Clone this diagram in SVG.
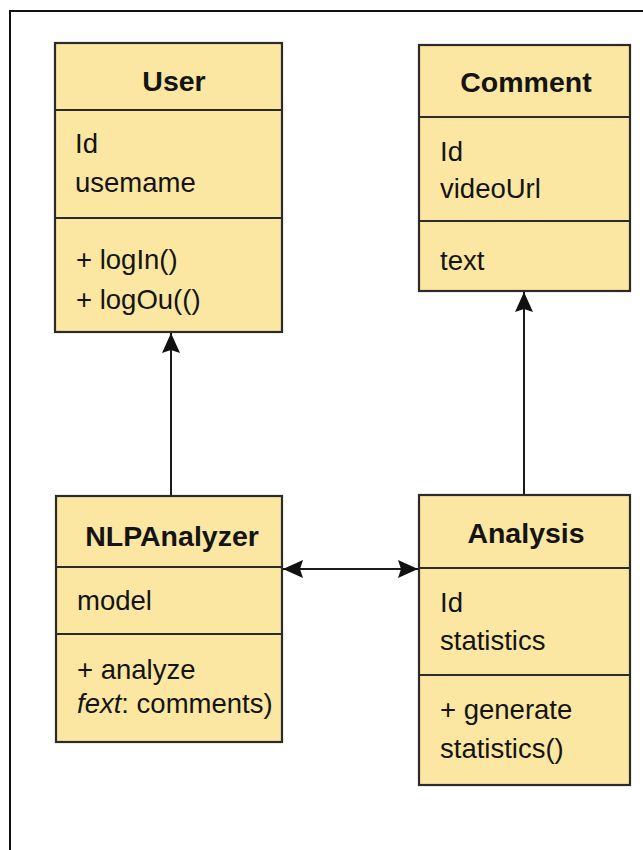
<svg xmlns="http://www.w3.org/2000/svg" width="643" height="850" viewBox="0 0 643 850">
<style>
.box{fill:#FBE7A1;stroke:#2b2b2b;stroke-width:2.2}
.sep{stroke:#2b2b2b;stroke-width:2}
.hd{font-family:"Liberation Sans",Arial,sans-serif;font-weight:bold;font-size:28.5px;fill:#141414;text-anchor:middle}
.tx{font-family:"Liberation Sans",Arial,sans-serif;font-size:27.5px;fill:#141414}
.ln{stroke:#1a1a1a;stroke-width:2;fill:none}
</style>
<defs>
<marker id="ah" viewBox="0 0 20 18" refX="20" refY="9" markerWidth="20" markerHeight="18" markerUnits="userSpaceOnUse" orient="auto-start-reverse">
<path d="M0,0 L20,9 L0,18 L3,9 Z" fill="#111"/>
</marker>
</defs>
<rect width="643" height="850" fill="#fff"/>
<path d="M10,850 L10,11 L643,11" fill="none" stroke="#111" stroke-width="2"/>
<g id="connectors">
<line class="ln" x1="171" y1="496" x2="171" y2="333" marker-end="url(#ah)"/>
<line class="ln" x1="524" y1="495" x2="524" y2="292" marker-end="url(#ah)"/>
<line class="ln" x1="283" y1="569" x2="418" y2="569" marker-start="url(#ah)" marker-end="url(#ah)"/>
</g>
<g id="user">
<rect class="box" x="55" y="43" width="227" height="289"/>
<line class="sep" x1="55" y1="110" x2="282" y2="110"/>
<line class="sep" x1="55" y1="218" x2="282" y2="218"/>
<text class="hd" x="174" y="91">User</text>
<text class="tx" x="75" y="153">Id</text>
<text class="tx" x="75" y="192">usemame</text>
<text class="tx" x="76" y="269">+ logIn()</text>
<text class="tx" x="76" y="309">+ logOu(()</text>
</g>
<g id="comment">
<rect class="box" x="419" y="45" width="211" height="246"/>
<line class="sep" x1="419" y1="117" x2="630" y2="117"/>
<line class="sep" x1="419" y1="221" x2="630" y2="221"/>
<text class="hd" x="526" y="92">Comment</text>
<text class="tx" x="440" y="161">Id</text>
<text class="tx" x="440" y="198">videoUrl</text>
<text class="tx" x="440" y="270">text</text>
</g>
<g id="nlpanalyzer">
<rect class="box" x="56" y="496" width="226" height="246"/>
<line class="sep" x1="56" y1="567" x2="282" y2="567"/>
<line class="sep" x1="56" y1="634" x2="282" y2="634"/>
<text class="hd" x="172" y="546">NLPAnalyzer</text>
<text class="tx" x="77" y="610">model</text>
<text class="tx" x="77" y="679">+ analyze</text>
<text class="tx" x="77" y="713"><tspan font-style="italic">fext</tspan>: comments)</text>
</g>
<g id="analysis">
<rect class="box" x="419" y="495" width="211" height="290"/>
<line class="sep" x1="419" y1="568" x2="630" y2="568"/>
<line class="sep" x1="419" y1="675" x2="630" y2="675"/>
<text class="hd" x="526" y="543">Analysis</text>
<text class="tx" x="440" y="612">Id</text>
<text class="tx" x="440" y="650">statistics</text>
<text class="tx" x="440" y="719">+ generate</text>
<text class="tx" x="440" y="758">statistics()</text>
</g>
</svg>
